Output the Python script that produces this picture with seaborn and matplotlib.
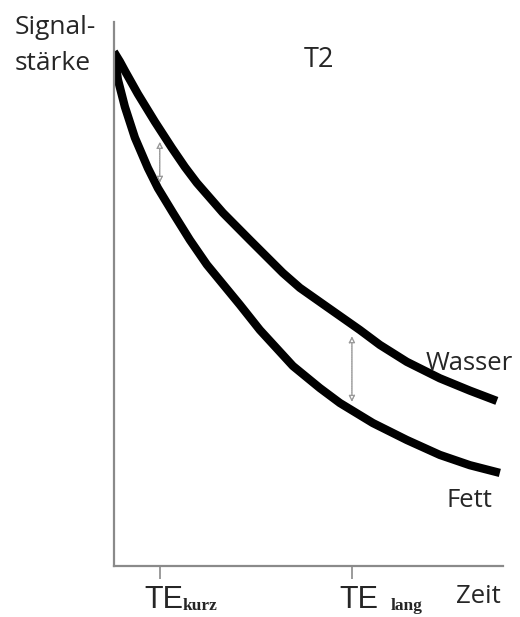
import numpy as np
import pandas as pd
import matplotlib
matplotlib.use("Agg")
import matplotlib.pyplot as plt
import seaborn as sns

# Kurvenpunkte (Zeit 0..100, Signalstärke in %)
zeit_wasser = [0, 1.54, 2.83, 6.17, 10.54, 14.91, 18.25, 21.34, 28.02, 34.96, 43.44,
               47.81, 54.76, 63.24, 68.38, 75.32, 83.80, 91.52, 98.46]
signal_wasser = [100, 98.1, 96.3, 91.8, 86.4, 81.3, 77.6, 74.5, 68.7, 63.4, 57.0,
                 54.1, 50.4, 45.9, 43.0, 39.7, 36.5, 34.1, 32.1]
zeit_fett = [0, 1.03, 2.83, 5.40, 8.74, 11.31, 15.17, 19.54, 23.91, 32.39,
             37.53, 46.02, 52.96, 58.10, 66.58, 75.32, 83.80, 91.52, 99.23]
signal_fett = [100, 94.6, 89.3, 83.3, 77.4, 73.5, 68.7, 63.4, 58.6, 50.8,
               45.9, 38.9, 34.6, 31.7, 27.8, 24.5, 21.6, 19.6, 18.1]

# TE-Zeitpunkte und Kontrastpfeile (von Wasser nach Fett)
te_pos = [11.8, 61.2]
te_sub = ["kurz", "lang"]
pfeil_oben = [82.5, 44.7]
pfeil_unten = [74.5, 31.9]

df = pd.concat([
    pd.DataFrame({"Zeit": zeit_wasser, "Signal": signal_wasser, "Gewebe": "Wasser"}),
    pd.DataFrame({"Zeit": zeit_fett, "Signal": signal_fett, "Gewebe": "Fett"}),
])

sns.set_style("white")
plt.rcParams["font.family"] = ["Open Sans", "DejaVu Sans"]

fig = plt.figure(figsize=(5.2, 6.17), dpi=100)
ax = fig.add_axes([0.219, 0.0827, 0.748, 0.8817])

sns.lineplot(data=df, x="Zeit", y="Signal", units="Gewebe", estimator=None,
             color="black", linewidth=6, sort=False, ax=ax, legend=False,
             solid_capstyle="butt", solid_joinstyle="round")

for x, y0, y1 in zip(te_pos, pfeil_oben, pfeil_unten):
    ax.annotate("", xy=(x, y1), xytext=(x, y0),
                arrowprops=dict(arrowstyle="<|-|>", color="#9a9a9a", lw=1.0,
                                ls=(0, (1, 0.6)), mutation_scale=9,
                                fc="white", shrinkA=0, shrinkB=0))

ax.set_xlim(0, 100)
ax.set_ylim(0, 105.8)
ax.set_xticks(te_pos)
ax.set_xticklabels([])
ax.set_yticks([])
ax.tick_params(axis="x", length=9, width=1.2, color="#8a8a8a", direction="out", bottom=True)
ax.set_xlabel("")
ax.set_ylabel("")
for s in ["top", "right"]:
    ax.spines[s].set_visible(False)
for s in ["left", "bottom"]:
    ax.spines[s].set_color("#8a8a8a")
    ax.spines[s].set_linewidth(1.6)

# TE-Beschriftungen unter den Ticks
fig.text(0.2769, 0.0146, "TE", fontsize=22, family="Liberation Sans", va="baseline")
fig.text(0.352, 0.0113, te_sub[0], fontsize=12.5, fontweight="bold",
         family="Liberation Serif", va="baseline")
fig.text(0.6519, 0.0146, "TE", fontsize=22, family="Liberation Sans", va="baseline")
fig.text(0.7519, 0.0113, te_sub[1], fontsize=12.5, fontweight="bold",
         family="Liberation Serif", va="baseline")

fig.text(0.877, 0.0227, "Zeit", fontsize=18.5, va="baseline")
fig.text(0.028, 0.9449, "Signal-", fontsize=19, va="baseline")
fig.text(0.028, 0.8865, "stärke", fontsize=19, va="baseline")
fig.text(0.5846, 0.8914, "T2", fontsize=19.5, va="baseline")
fig.text(0.819, 0.4003, "Wasser", fontsize=18.5, va="baseline")
fig.text(0.858, 0.1783, "Fett", fontsize=18.5, va="baseline")

fig.savefig("out.png", dpi=100)
